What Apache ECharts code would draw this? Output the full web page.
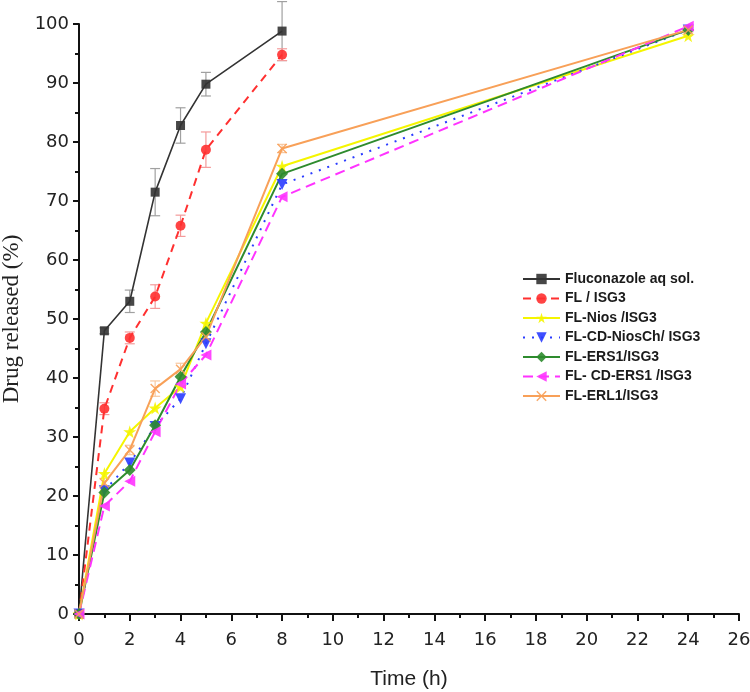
<!DOCTYPE html>
<html>
<head>
<meta charset="utf-8">
<script src="https://cdn.jsdelivr.net/npm/echarts@6/dist/echarts.min.js"></script>
<style>html,body{margin:0;padding:0;background:#fff;}#c{width:750px;height:692px;}</style>
</head>
<body>
<div id="c"></div>
<script>
// Time points (h)
const timeShort = [0, 1, 2, 3, 4, 5, 8];
const timeLong = [0, 1, 2, 3, 4, 5, 8, 24];

// Series values (% drug released)
const fluconazoleAq = [0, 48, 53, 71.5, 82.8, 89.8, 98.8];
const flIsg3 = [0, 34.8, 46.8, 53.8, 65.8, 78.7, 94.8];
const flNios = [0, 23.8, 30.9, 34.9, 38.5, 49.3, 75.9, 98];
const flCdNiosCh = [0, 20.9, 25.6, 31.8, 36.5, 45.8, 72.8, 99];
const flErs1 = [0, 20.6, 24.4, 32, 40.2, 47.8, 74.6, 99];
const flCdErs1 = [0, 18.3, 22.5, 30.9, 39, 43.9, 70.7, 99.6];
const flErl1 = [0, 22.2, 27.8, 38.2, 41.5, 47, 78.9, 99];

// Error bars (±)
const errFluconazoleAq = [0, 0.5, 1.9, 4, 3, 2, 5];
const errFlIsg3 = [0, 1, 1, 2, 1.8, 3, 1];
const errFlErl1 = [0, 0.8, 0.8, 1.3, 1, 0.8, 0.7, 0.5];

// Names
const seriesNames = ['Fluconazole aq sol.', 'FL / ISG3', 'FL-Nios /ISG3', 'FL-CD-NiosCh/ ISG3', 'FL-ERS1/ISG3', 'FL- CD-ERS1 /ISG3', 'FL-ERL1/ISG3'];

const pair = (xs, ys) => xs.map((x, i) => [x, ys[i]]);
const triple = (xs, ys, es) => xs.map((x, i) => [x, ys[i], es[i]]);

function errSeries(xs, ys, es, color) {
  return {
    type: 'custom',
    silent: true,
    z: 1,
    data: triple(xs, ys, es),
    renderItem: function (params, api) {
      const x = api.value(0), y = api.value(1), e = api.value(2);
      if (!e) return null;
      const t = api.coord([x, y + e]);
      const b = api.coord([x, y - e]);
      const w = 5;
      const st = { stroke: color, lineWidth: 1.2 };
      return {
        type: 'group',
        children: [
          { type: 'line', shape: { x1: t[0], y1: t[1], x2: b[0], y2: b[1] }, style: st },
          { type: 'line', shape: { x1: t[0] - w, y1: t[1], x2: t[0] + w, y2: t[1] }, style: st },
          { type: 'line', shape: { x1: b[0] - w, y1: b[1], x2: b[0] + w, y2: b[1] }, style: st }
        ]
      };
    }
  };
}

const xPath = 'path://M1,0 L5,4 L9,0 L10,1 L6,5 L10,9 L9,10 L5,6 L1,10 L0,9 L4,5 L0,1 Z';
const starPath = 'path://M50,0 L61,35 L98,35 L68,57 L79,91 L50,70 L21,91 L32,57 L2,35 L39,35 Z';

function lineSeries(name, xs, ys, color, lineType, width, symbol, size, rotate) {
  return {
    name: name,
    type: 'line',
    data: pair(xs, ys),
    symbol: symbol,
    symbolSize: size,
    symbolRotate: rotate || 0,
    z: 3,
    lineStyle: { color: color, width: width, type: lineType },
    itemStyle: { color: color, opacity: 0.9 }
  };
}

const chart = echarts.init(document.getElementById('c'), null, { renderer: 'canvas' });
chart.setOption({
  animation: false,
  backgroundColor: '#fff',
  grid: { left: 79, right: 11, top: 24, bottom: 78, containLabel: false, outerBoundsMode: 'none' },
  xAxis: {
    type: 'value', min: 0, max: 26, interval: 2,
    name: 'Time (h)', nameLocation: 'middle', nameGap: 55,
    nameTextStyle: { fontFamily: 'Liberation Sans', fontSize: 21, color: '#222' },
    axisLine: { show: true, onZero: false, lineStyle: { color: '#111', width: 2 } },
    axisTick: { show: true, inside: false, length: 7, lineStyle: { color: '#111', width: 2 } },
    minorTick: { show: true, splitNumber: 2, length: 4, lineStyle: { color: '#111', width: 2 } },
    axisLabel: { fontFamily: 'DejaVu Sans', fontSize: 18, color: '#222', margin: 17 },
    splitLine: { show: false }
  },
  yAxis: {
    type: 'value', min: 0, max: 100, interval: 10,
    name: 'Drug released (%)', nameLocation: 'middle', nameGap: 53,
    nameTextStyle: { fontFamily: 'Liberation Serif', fontSize: 23, color: '#222' },
    axisLine: { show: true, lineStyle: { color: '#111', width: 2 } },
    axisTick: { show: true, inside: false, length: 6, lineStyle: { color: '#111', width: 2 } },
    minorTick: { show: true, splitNumber: 2, length: 4, lineStyle: { color: '#111', width: 2 } },
    axisLabel: { fontFamily: 'DejaVu Sans', fontSize: 18, color: '#222', margin: 10 },
    splitLine: { show: false }
  },
  legend: {
    data: seriesNames,
    orient: 'vertical',
    left: 517, top: 267,
    itemWidth: 37, itemHeight: 13, itemGap: 5.5,
    textStyle: { fontFamily: 'Liberation Sans', fontSize: 14, fontWeight: 'bold', color: '#1a1a1a', lineHeight: 14 }
  },
  series: [
    errSeries(timeShort, fluconazoleAq, errFluconazoleAq, '#a0a0a0'),
    errSeries(timeShort, flIsg3, errFlIsg3, '#f49a9a'),
    errSeries(timeLong, flErl1, errFlErl1, '#f8c8a0'),
    lineSeries(seriesNames[0], timeShort, fluconazoleAq, '#333333', 'solid', 1.6, 'rect', 9),
    lineSeries(seriesNames[1], timeShort, flIsg3, '#ff3030', [8, 6], 2, 'circle', 10),
    lineSeries(seriesNames[2], timeLong, flNios, '#f5f500', 'solid', 2, starPath, 13),
    lineSeries(seriesNames[3], timeLong, flCdNiosCh, '#2a3cff', [2, 7], 2, 'triangle', 11, 180),
    lineSeries(seriesNames[4], timeLong, flErs1, '#2e8b2e', 'solid', 2, 'diamond', 12),
    lineSeries(seriesNames[5], timeLong, flCdErs1, '#ff33ff', [10, 6], 2, 'triangle', 11, 90),
    lineSeries(seriesNames[6], timeLong, flErl1, '#f8a058', 'solid', 2, xPath, 10)
  ]
});
</script>
</body>
</html>
